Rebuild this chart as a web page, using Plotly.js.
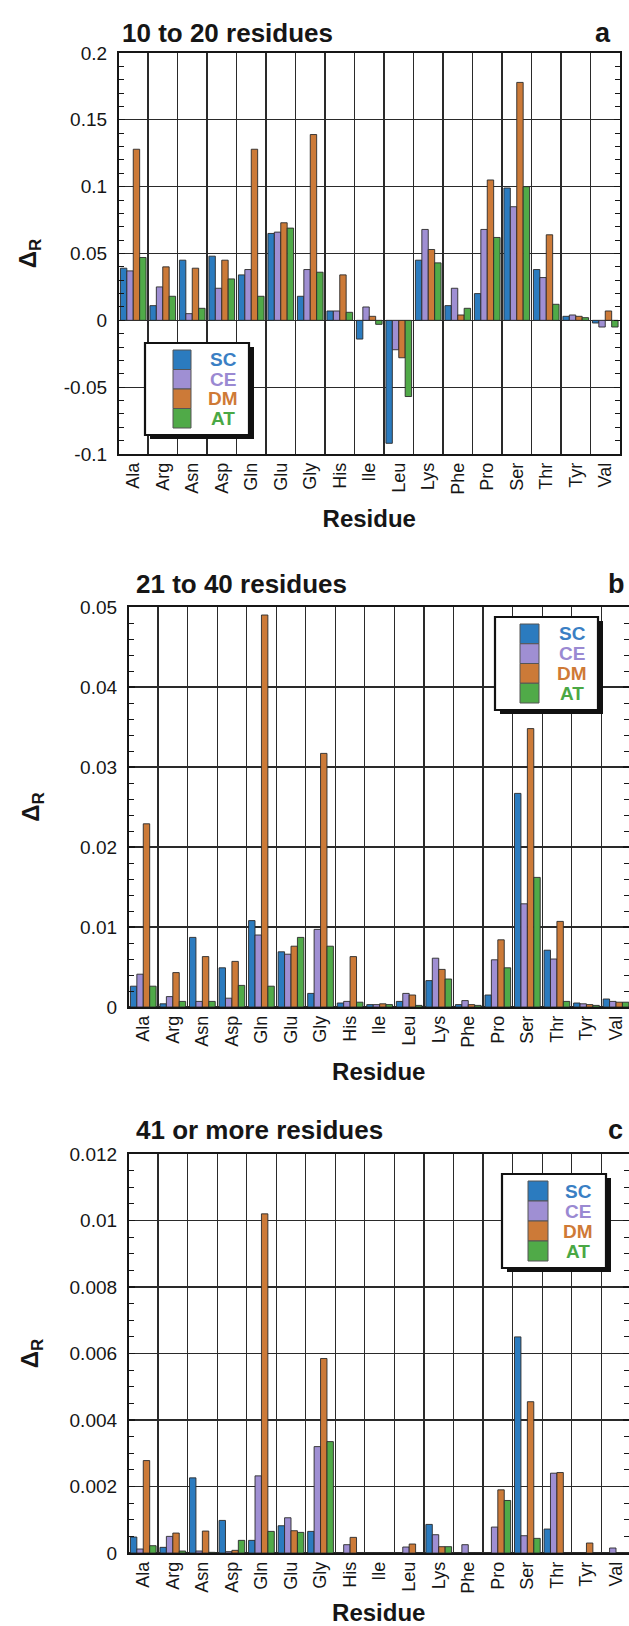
<!DOCTYPE html>
<html><head><meta charset="utf-8">
<script src="https://cdn.plot.ly/plotly-3.0.1.min.js"></script>
<style>html,body{margin:0;padding:0;background:#fff}#chart{width:629px;height:1626px}</style>
</head><body><div id="chart"></div>
<script>
// ---------- data ----------
const residues = ['Ala','Arg','Asn','Asp','Gln','Glu','Gly','His','Ile','Leu','Lys','Phe','Pro','Ser','Thr','Tyr','Val'];
const methods = ['SC','CE','DM','AT'];
const panelTitles = ['10 to 20 residues','21 to 40 residues','41 or more residues'];
const panelLetters = ['a','b','c'];

// (a) 10 to 20 residues
const a_SC = [0.039,0.011,0.045,0.048,0.034,0.065,0.018,0.007,-0.014,-0.092,0.045,0.011,0.020,0.099,0.038,0.003,-0.002];
const a_CE = [0.037,0.025,0.005,0.024,0.038,0.066,0.038,0.007,0.010,-0.022,0.068,0.024,0.068,0.085,0.032,0.004,-0.005];
const a_DM = [0.128,0.040,0.039,0.045,0.128,0.073,0.139,0.034,0.003,-0.028,0.053,0.004,0.105,0.178,0.064,0.003,0.007];
const a_AT = [0.047,0.018,0.009,0.031,0.018,0.069,0.036,0.006,-0.003,-0.057,0.043,0.009,0.062,0.100,0.012,0.002,-0.005];

// (b) 21 to 40 residues
const b_SC = [0.0026,0.0004,0.0087,0.0049,0.0108,0.0069,0.0017,0.0005,0.0003,0.0007,0.0033,0.0003,0.0015,0.0267,0.0071,0.0005,0.0010];
const b_CE = [0.0041,0.0013,0.0007,0.0011,0.0090,0.0066,0.0097,0.0007,0.0003,0.0017,0.0061,0.0008,0.0059,0.0129,0.0060,0.0004,0.0007];
const b_DM = [0.0229,0.0043,0.0063,0.0057,0.0490,0.0076,0.0317,0.0063,0.0004,0.0015,0.0047,0.0003,0.0084,0.0348,0.0107,0.0003,0.0006];
const b_AT = [0.0026,0.0007,0.0007,0.0027,0.0026,0.0087,0.0076,0.0006,0.0003,0.0002,0.0035,0.0002,0.0049,0.0162,0.0007,0.0002,0.0006];

// (c) 41 or more residues
const c_SC = [0.00048,0.00017,0.00226,0.00098,0.00038,0.00082,0.00065,0,0,0,0.00086,0,0,0.0065,0.00072,0,0];
const c_CE = [0.00012,0.00050,0.00006,0.00004,0.00232,0.00106,0.00320,0.00025,0,0.00018,0.00055,0.00025,0.00078,0.00052,0.00240,0,0.00015];
const c_DM = [0.00278,0.00060,0.00066,0.00008,0.01020,0.00067,0.00585,0.00047,0,0.00027,0.00019,0,0.00190,0.00455,0.00242,0.00030,0];
const c_AT = [0.00022,0.00006,0.00002,0.00038,0.00065,0.00062,0.00335,0,0,0,0.00019,0,0.00158,0.00044,0,0,0];

// y tick labels
const a_tickvals = [-0.1,-0.05,0,0.05,0.1,0.15,0.2];
const a_ticktext = ['-0.1','-0.05','0','0.05','0.1','0.15','0.2'];
const b_tickvals = [0,0.01,0.02,0.03,0.04,0.05];
const b_ticktext = ['0','0.01','0.02','0.03','0.04','0.05'];
const c_tickvals = [0,0.002,0.004,0.006,0.008,0.01,0.012];
const c_ticktext = ['0','0.002','0.004','0.006','0.008','0.01','0.012'];

// ---------- styling ----------
const W = 629, H = 1626;
const fx = p => p / W;
const fy = p => 1 - p / H;
const barColors = ['#2b7bbf','#9f8fd3','#cc7a38','#50aa48'];
const labelColors = ['#3a7fc4','#9a89d2','#cf7a36','#4aa845'];
const FONT = 'Liberation Sans, Arial, Helvetica, sans-serif';
const INK = '#161616';
const GRID = '#2a2a2a';
const yTitle = '<b>Δ<span style="font-size:17px;baseline-shift:-28%">R</span></b>';

const panelData = [
  [a_SC,a_CE,a_DM,a_AT],
  [b_SC,b_CE,b_DM,b_AT],
  [c_SC,c_CE,c_DM,c_AT]
];
const panelTicks = [[a_tickvals,a_ticktext],[b_tickvals,b_ticktext],[c_tickvals,c_ticktext]];

// geometry in page pixels
const geo = [
  {L:118.5, R:620, T:53, B:454, xend:16.5, yr:[-0.1,0.2], minor:0.01, titleX:120, titleY:33, letterX:613, ys:20, xs:16,
   leg:{L:145,R:249,T:343,B:435, sL:173, sR:191, tx:223}},
  {L:128.5, R:629, T:607, B:1007, xend:16.44, yr:[0,0.05], minor:0.002, titleX:134, titleY:584, letterX:627, ys:34, xs:16,
   leg:{L:495,R:598,T:617,B:710, sL:520, sR:539, tx:572}},
  {L:128.5, R:629, T:1154, B:1553, xend:16.44, yr:[0,0.012], minor:0.0005, titleX:134, titleY:1130, letterX:625, ys:24, xs:16,
   leg:{L:502,R:606,T:1174,B:1268, sL:528, sR:548, tx:578}}
];

const traces = [];
const layout = {
  width: W, height: H, autosize:false,
  margin:{l:0,r:0,t:0,b:0},
  paper_bgcolor:'#ffffff', plot_bgcolor:'#ffffff',
  font:{family:FONT, color:INK},
  barmode:'group', bargap:0.13, bargroupgap:0,
  showlegend:false,
  shapes:[], annotations:[]
};

geo.forEach((g, i) => {
  const sx = i === 0 ? '' : String(i + 1);
  const xName = 'xaxis' + sx, yName = 'yaxis' + sx;
  methods.forEach((m, k) => {
    traces.push({
      type:'bar', x: residues, y: panelData[i][k], name: m,
      xaxis:'x' + sx, yaxis:'y' + sx,
      marker:{color: barColors[k], line:{color:'#2a2a2a', width:0.9}},
      hoverinfo:'x+y+name'
    });
  });
  layout[xName] = {
    domain:[fx(g.L), fx(g.R)], anchor:'y' + sx, type:'category',
    range:[-0.5, g.xend], tickson:'boundaries',
    showgrid:true, gridcolor:GRID, gridwidth:1.25,
    ticks:'', showline:true, linecolor:INK, linewidth:1.6, mirror:true,
    tickangle:-90, tickfont:{family:FONT, size:18, color:INK},
    title:{text:'<b>Residue</b>', font:{family:FONT, size:24, color:INK}, standoff:g.xs},
    zeroline:false, automargin:false, fixedrange:true
  };
  layout[yName] = {
    domain:[fy(g.B), fy(g.T)], anchor:'x' + sx, range:g.yr,
    tickmode:'array', tickvals:panelTicks[i][0], ticktext:panelTicks[i][1],
    ticks:'inside', ticklen:6, tickcolor:INK, tickwidth:1.2,
    showgrid:true, gridcolor:GRID, gridwidth:1.25,
    zeroline:true, zerolinecolor:GRID, zerolinewidth:1.25,
    showline:true, linecolor:INK, linewidth:1.6, mirror:'ticks',
    minor:{tickmode:'linear', tick0:0, dtick:g.minor, ticks:'inside', ticklen:5, tickcolor:INK, tickwidth:1, showgrid:false},
    tickfont:{family:FONT, size:19, color:INK}, ticklabelstandoff:6,
    title:{text:yTitle, font:{family:FONT, size:24, color:INK}, standoff:g.ys},
    automargin:false, fixedrange:true
  };
  // panel title and letter
  layout.annotations.push({xref:'paper', yref:'paper', x:fx(g.titleX), y:fy(g.titleY), xanchor:'left', yanchor:'middle',
    text:'<b>' + panelTitles[i] + '</b>', showarrow:false, font:{family:FONT, size:26, color:INK}});
  layout.annotations.push({xref:'paper', yref:'paper', x:fx(g.letterX), y:fy(g.titleY), xanchor:'right', yanchor:'middle',
    text:'<b>' + panelLetters[i] + '</b>', showarrow:false, font:{family:FONT, size:27, color:INK}});
  // legend box with drop shadow
  const lg = g.leg;
  layout.shapes.push({type:'rect', xref:'paper', yref:'paper', layer:'above',
    x0:fx(lg.L + 5), x1:fx(lg.R + 5), y0:fy(lg.B + 4), y1:fy(lg.T + 4), fillcolor:'#111', line:{width:0}});
  layout.shapes.push({type:'rect', xref:'paper', yref:'paper', layer:'above',
    x0:fx(lg.L), x1:fx(lg.R), y0:fy(lg.B), y1:fy(lg.T), fillcolor:'#ffffff', line:{color:'#111', width:2.2}});
  const sT = lg.T + 7, sH = (lg.B - lg.T - 14) / 4;
  methods.forEach((m, k) => {
    layout.shapes.push({type:'rect', xref:'paper', yref:'paper', layer:'above',
      x0:fx(lg.sL), x1:fx(lg.sR), y0:fy(sT + (k + 1) * sH), y1:fy(sT + k * sH),
      fillcolor:barColors[k], line:{color:'#555', width:1}});
    layout.annotations.push({xref:'paper', yref:'paper', x:fx(lg.tx), y:fy(sT + (k + 0.5) * sH),
      xanchor:'center', yanchor:'middle', showarrow:false,
      text:'<b>' + m + '</b>', font:{family:FONT, size:19, color:labelColors[k]}});
  });
});

Plotly.newPlot('chart', traces, layout, {displayModeBar:false, staticPlot:true});
</script>
</body></html>
